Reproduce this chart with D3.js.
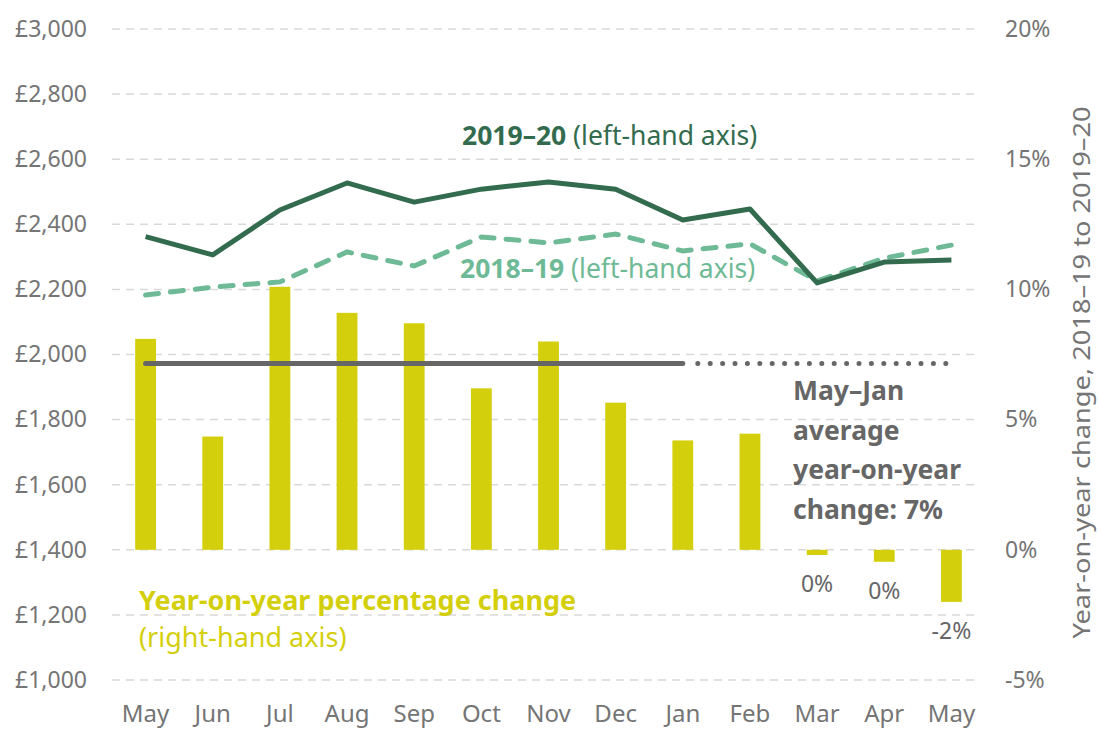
<!DOCTYPE html>
<html>
<head>
<meta charset="utf-8">
<script src="https://cdn.jsdelivr.net/npm/d3@7"></script>
<style>
  body { margin: 0; background: #fff; }
  svg { font-family: "Noto Sans", "Open Sans", sans-serif; }
</style>
</head>
<body>
<div class="canvas"></div>
<script>
// data
const months = ['May', 'Jun', 'Jul', 'Aug', 'Sep', 'Oct', 'Nov', 'Dec', 'Jan', 'Feb', 'Mar', 'Apr', 'May2'];
const monthLabels = ['May', 'Jun', 'Jul', 'Aug', 'Sep', 'Oct', 'Nov', 'Dec', 'Jan', 'Feb', 'Mar', 'Apr', 'May'];
const spend1920 = [2362, 2306, 2444, 2527, 2468, 2508, 2530, 2508, 2413, 2447, 2220, 2284, 2290];
const spend1819 = [2183, 2207, 2223, 2315, 2272, 2361, 2343, 2370, 2318, 2340, 2226, 2296, 2336];
const yoyChange = [8.1, 4.35, 10.1, 9.1, 8.7, 6.2, 8.0, 5.65, 4.2, 4.46, -0.2, -0.46, -2.0];
const barLabels = ['', '', '', '', '', '', '', '', '', '', '0%', '0%', '-2%'];
const avgChange = 7.15;
const leftTicks = [1000, 1200, 1400, 1600, 1800, 2000, 2200, 2400, 2600, 2800, 3000];
const rightTicks = [-5, 0, 5, 10, 15, 20];

const dims = { width: 1099, height: 729 };
const plot = { left: 112, right: 985, top: 29, bottom: 680 };

const colours = {
  dark: '#336b4f',
  light: '#6fba96',
  bar: '#d4cf0c',
  avg: '#666666',
  tick: '#757575',
  grid: '#d9d9d9'
};

const svg = d3.select('.canvas').append('svg')
  .attr('width', dims.width)
  .attr('height', dims.height);

const x = d3.scaleBand()
  .domain(months)
  .range([plot.left, plot.right])
  .paddingInner(0.69)
  .paddingOuter(0.345);

const xc = d => x(d) + x.bandwidth() / 2;

const yL = d3.scaleLinear().domain([1000, 3000]).range([plot.bottom, plot.top]);
const yR = d3.scaleLinear().domain([-5, 20]).range([plot.bottom, plot.top]);

// gridlines
svg.append('g')
  .selectAll('line')
  .data(leftTicks)
  .enter().append('line')
  .attr('x1', plot.left).attr('x2', plot.right - 5)
  .attr('y1', d => yL(d)).attr('y2', d => yL(d))
  .attr('stroke', colours.grid)
  .attr('stroke-width', 1.5)
  .attr('stroke-dasharray', '8,6');

// left axis
const leftAxis = svg.append('g')
  .attr('transform', `translate(${plot.left - 25}, 0)`)
  .call(d3.axisLeft(yL).tickValues(leftTicks).tickSize(0).tickPadding(0)
    .tickFormat(d => '£' + d3.format(',')(d)));
leftAxis.select('.domain').remove();
leftAxis.selectAll('text')
  .attr('font-size', 23).attr('fill', colours.tick)
  .attr('font-family', '"Noto Sans", sans-serif');

// right axis
const rightAxis = svg.append('g')
  .attr('transform', `translate(${plot.right + 20}, 0)`)
  .call(d3.axisRight(yR).tickValues(rightTicks).tickSize(0).tickPadding(0)
    .tickFormat(d => d + '%'));
rightAxis.select('.domain').remove();
rightAxis.selectAll('text')
  .attr('font-size', 23).attr('fill', colours.tick)
  .attr('font-family', '"Noto Sans", sans-serif');

svg.append('text')
  .attr('transform', `translate(1090, ${(plot.top + plot.bottom) / 2 + 18}) rotate(-90)`)
  .attr('text-anchor', 'middle')
  .attr('font-size', 23)
  .attr('fill', colours.tick)
  .attr('textLength', 532)
  .attr('lengthAdjust', 'spacingAndGlyphs')
  .text('Year-on-year change, 2018–19 to 2019–20');

// x axis
const xAxis = svg.append('g')
  .attr('transform', `translate(0, ${plot.bottom + 25})`)
  .call(d3.axisBottom(x).tickSize(0).tickPadding(0)
    .tickFormat((d, i) => monthLabels[i]));
xAxis.select('.domain').remove();
xAxis.selectAll('text')
  .attr('font-size', 24).attr('fill', colours.tick)
  .attr('font-family', '"Noto Sans", sans-serif');

// bars
svg.append('g')
  .selectAll('rect')
  .data(yoyChange)
  .enter().append('rect')
  .attr('x', (d, i) => x(months[i]))
  .attr('width', x.bandwidth())
  .attr('y', d => yR(Math.max(0, d)))
  .attr('height', d => Math.abs(yR(d) - yR(0)))
  .attr('fill', colours.bar);

// bar labels for negatives
svg.append('g')
  .selectAll('text')
  .data(yoyChange)
  .enter().append('text')
  .attr('x', (d, i) => xc(months[i]))
  .attr('y', d => yR(d) + 37)
  .attr('text-anchor', 'middle')
  .attr('font-size', 23)
  .attr('fill', colours.avg)
  .text((d, i) => barLabels[i]);

// average line
const jan = months.indexOf('Jan');
svg.append('line')
  .attr('x1', xc(months[0])).attr('x2', xc(months[jan]))
  .attr('y1', yR(avgChange)).attr('y2', yR(avgChange))
  .attr('stroke', colours.avg)
  .attr('stroke-width', 5)
  .attr('stroke-linecap', 'round');
svg.append('line')
  .attr('x1', xc(months[jan]) + 15).attr('x2', xc(months[months.length - 1]) - 5)
  .attr('y1', yR(avgChange)).attr('y2', yR(avgChange))
  .attr('stroke', colours.avg)
  .attr('stroke-width', 5)
  .attr('stroke-linecap', 'round')
  .attr('stroke-dasharray', '0,12.4');

// lines
const line = d3.line()
  .x((d, i) => xc(months[i]))
  .y(d => yL(d));

svg.append('path')
  .attr('d', line(spend1819))
  .attr('fill', 'none')
  .attr('stroke', colours.light)
  .attr('stroke-width', 5)
  .attr('stroke-linecap', 'round')
  .attr('stroke-dasharray', '13,12');

svg.append('path')
  .attr('d', line(spend1920))
  .attr('fill', 'none')
  .attr('stroke', colours.dark)
  .attr('stroke-width', 5)
  .attr('stroke-linejoin', 'round');

// annotations
const t1 = svg.append('text')
  .attr('x', 462).attr('y', 145)
  .attr('font-size', 26.5)
  .attr('fill', colours.dark);
t1.append('tspan').attr('font-weight', 'bold').text('2019–20');
t1.append('tspan').text(' (left-hand axis)');

const t2 = svg.append('text')
  .attr('x', 460).attr('y', 278)
  .attr('font-size', 26.5)
  .attr('fill', colours.light);
t2.append('tspan').attr('font-weight', 'bold').text('2018–19');
t2.append('tspan').text(' (left-hand axis)');

const avgLines = ['May–Jan', 'average', 'year-on-year', 'change: 7%'];
svg.append('g')
  .selectAll('text')
  .data(avgLines)
  .enter().append('text')
  .attr('x', 793)
  .attr('y', (d, i) => 400 + i * 39.5)
  .attr('font-size', 26.5)
  .attr('font-weight', 'bold')
  .attr('fill', colours.avg)
  .text(d => d);

svg.append('text')
  .attr('x', 139).attr('y', 610)
  .attr('font-size', 27)
  .attr('font-weight', 'bold')
  .attr('fill', colours.bar)
  .text('Year-on-year percentage change');
svg.append('text')
  .attr('x', 139).attr('y', 647)
  .attr('font-size', 27)
  .attr('fill', colours.bar)
  .text('(right-hand axis)');
</script>
</body>
</html>
